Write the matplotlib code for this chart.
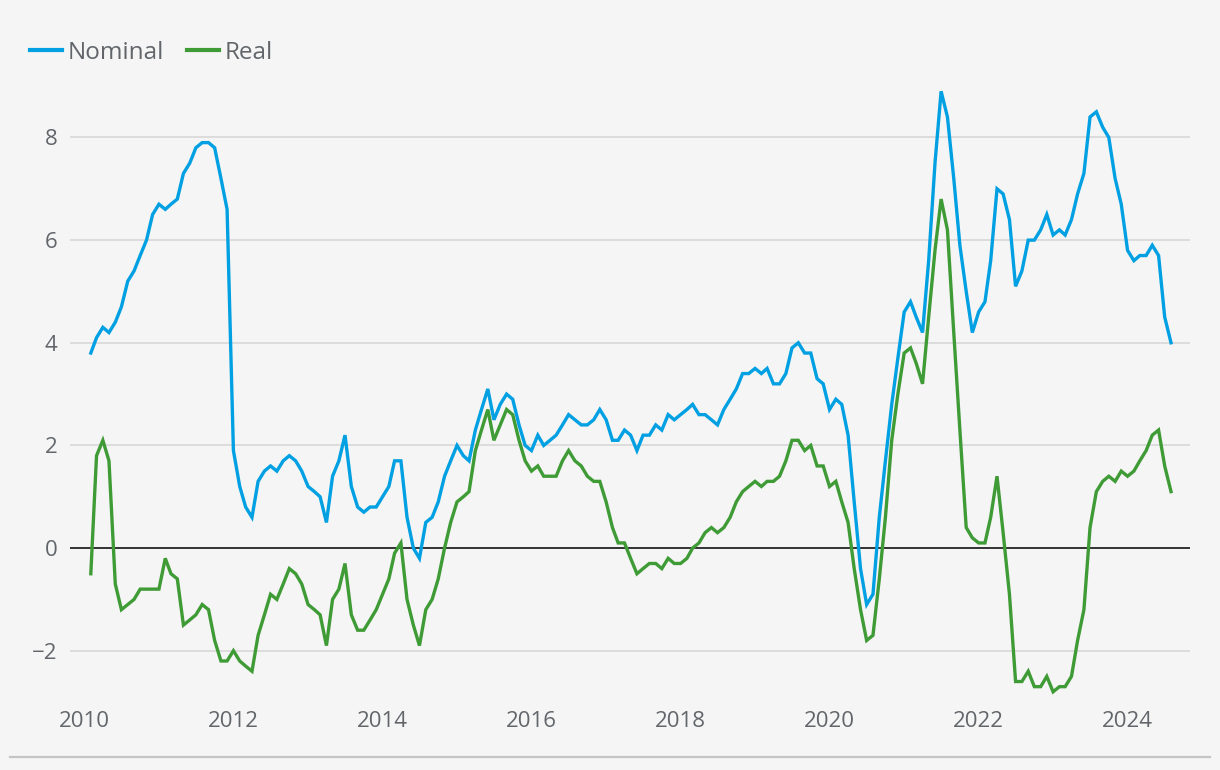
import numpy as np
import pandas as pd
import matplotlib
matplotlib.use("Agg")
import matplotlib.pyplot as plt
import matplotlib.dates as mdates
from matplotlib.lines import Line2D

# monthly series, Feb 2010 -> Aug 2024
dates = pd.date_range("2010-02-01", periods=175, freq="MS")

nominal = [
    3.8, 4.1, 4.3, 4.2, 4.4, 4.7, 5.2, 5.4, 5.7, 6.0, 6.5, 6.7, 6.6, 6.7, 6.8, 7.3,
    7.5, 7.8, 7.9, 7.9, 7.8, 7.2, 6.6, 1.9, 1.2, 0.8, 0.6, 1.3, 1.5, 1.6, 1.5,
    1.7, 1.8, 1.7, 1.5, 1.2, 1.1, 1.0, 0.5, 1.4, 1.7, 2.2, 1.2, 0.8, 0.7, 0.8, 0.8,
    1.0, 1.2, 1.7, 1.7, 0.6, 0.0, -0.2, 0.5, 0.6, 0.9, 1.4, 1.7, 2.0, 1.8, 1.7,
    2.3, 2.7, 3.1, 2.5, 2.8, 3.0, 2.9, 2.4, 2.0, 1.9, 2.2, 2.0, 2.1, 2.2, 2.4, 2.6,
    2.5, 2.4, 2.4, 2.5, 2.7, 2.5, 2.1, 2.1, 2.3, 2.2, 1.9, 2.2, 2.2, 2.4, 2.3,
    2.6, 2.5, 2.6, 2.7, 2.8, 2.6, 2.6, 2.5, 2.4, 2.7, 2.9, 3.1, 3.4, 3.4, 3.5, 3.4,
    3.5, 3.2, 3.2, 3.4, 3.9, 4.0, 3.8, 3.8, 3.3, 3.2, 2.7, 2.9, 2.8, 2.2,
    0.9, -0.4, -1.1, -0.9, 0.6, 1.7, 2.8, 3.7, 4.6, 4.8, 4.5, 4.2, 5.6, 7.5, 8.9,
    8.4, 7.2, 5.9, 5.0, 4.2, 4.6, 4.8, 5.6, 7.0, 6.9, 6.4, 5.1, 5.4,
    6.0, 6.0, 6.2, 6.5, 6.1, 6.2, 6.1, 6.4, 6.9, 7.3, 8.4, 8.5, 8.2, 8.0, 7.2, 6.7,
    5.8, 5.6, 5.7, 5.7, 5.9, 5.7, 4.5, 4.0,
]

real = [
    -0.5, 1.8, 2.1, 1.7, -0.7, -1.2, -1.1, -1.0, -0.8, -0.8, -0.8, -0.8, -0.2, -0.5,
    -0.6, -1.5, -1.4, -1.3, -1.1, -1.2, -1.8, -2.2, -2.2, -2.0, -2.2, -2.3, -2.4,
    -1.7, -1.3, -0.9, -1.0,
    -0.7, -0.4, -0.5, -0.7, -1.1, -1.2, -1.3, -1.9, -1.0, -0.8, -0.3, -1.3, -1.6,
    -1.6, -1.4, -1.2, -0.9, -0.6, -0.1, 0.1, -1.0, -1.5, -1.9, -1.2, -1.0, -0.6,
    0.0, 0.5, 0.9, 1.0, 1.1,
    1.9, 2.3, 2.7, 2.1, 2.4, 2.7, 2.6, 2.1, 1.7, 1.5, 1.6, 1.4, 1.4, 1.4, 1.7, 1.9,
    1.7, 1.6, 1.4, 1.3, 1.3, 0.9, 0.4, 0.1, 0.1, -0.2, -0.5, -0.4, -0.3, -0.3, -0.4,
    -0.2, -0.3, -0.3, -0.2, 0.0, 0.1, 0.3, 0.4, 0.3, 0.4, 0.6, 0.9, 1.1, 1.2, 1.3,
    1.2, 1.3, 1.3, 1.4, 1.7, 2.1, 2.1, 1.9, 2.0, 1.6, 1.6, 1.2, 1.3, 0.9, 0.5,
    -0.4, -1.2, -1.8, -1.7, -0.6, 0.6, 2.1, 3.0, 3.8, 3.9, 3.6, 3.2, 4.5, 5.8, 6.8,
    6.2, 4.2, 2.3, 0.4, 0.2, 0.1, 0.1, 0.6, 1.4, 0.3, -0.9, -2.6, -2.6,
    -2.4, -2.7, -2.7, -2.5, -2.8, -2.7, -2.7, -2.5, -1.8, -1.2, 0.4, 1.1, 1.3, 1.4,
    1.3, 1.5, 1.4, 1.5, 1.7, 1.9, 2.2, 2.3, 1.6, 1.1,
]

y_ticks = [-2, 0, 2, 4, 6, 8]

BG = "#f5f5f5"
BLUE = "#00a0e2"
GREEN = "#3f9b35"
TXT = "#62666b"

plt.rcParams["font.family"] = ["Open Sans", "DejaVu Sans"]

fig = plt.figure(figsize=(12.2, 7.7), dpi=100, facecolor=BG)
ax = fig.add_axes([70 / 1220, 1 - 700 / 770, 1120 / 1220, 620 / 770])
ax.set_facecolor(BG)

ax.set_ylim(-2.96, 9.12)
ax.set_xlim(pd.Timestamp("2009-10-22"), pd.Timestamp("2024-11-02"))

for t in y_ticks:
    if t == 0:
        ax.axhline(0, color="#111111", lw=1.2, zorder=2)
    else:
        ax.axhline(t, color="#dcdcdc", lw=1.4, zorder=1)

ax.plot(dates, nominal, color=BLUE, lw=2.4, solid_joinstyle="miter", zorder=3, label="Nominal")
ax.plot(dates, real, color=GREEN, lw=2.4, solid_joinstyle="miter", zorder=4, label="Real")

ax.set_yticks(y_ticks)
ax.set_yticklabels([str(t).replace("-", "\u2212") for t in y_ticks])
ax.xaxis.set_major_locator(mdates.YearLocator(2))
ax.xaxis.set_major_formatter(mdates.DateFormatter("%Y"))
ax.tick_params(axis="both", length=0, labelsize=16, labelcolor=TXT)
ax.tick_params(axis="y", pad=9)
ax.tick_params(axis="x", pad=8)
for s in ax.spines.values():
    s.set_visible(False)

leg = fig.legend(
    handles=[Line2D([], [], color=BLUE, lw=3), Line2D([], [], color=GREEN, lw=3)],
    labels=["Nominal", "Real"],
    loc="upper left", bbox_to_anchor=(30 / 1220, 1 - 41 / 770),
    ncol=2, frameon=False, fontsize=17.5, handlelength=1.3,
    handletextpad=0.25, columnspacing=0.95, borderpad=0, borderaxespad=0,
)
for t in leg.get_texts():
    t.set_color(TXT)

fig.add_artist(Line2D([10 / 1220, 1210 / 1220], [1 - 757 / 770] * 2,
                      color="#c4c4c4", lw=1.6, transform=fig.transFigure))

fig.savefig("out.png", dpi=100, facecolor=BG)
